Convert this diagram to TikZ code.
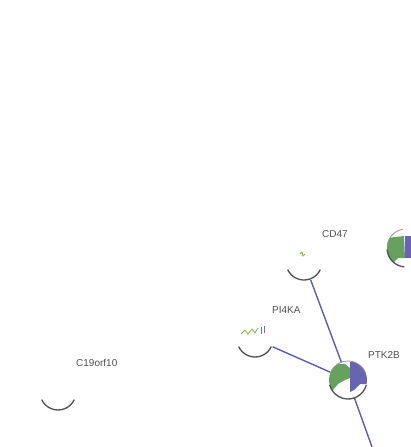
\documentclass[tikz,border=0pt]{standalone}
\usepackage{fontspec}
\setmainfont{Liberation Sans}
\definecolor{edgeblue}{RGB}{92,94,168}
\definecolor{ngreen}{RGB}{104,160,96}
\definecolor{nblue}{RGB}{104,100,176}
\definecolor{rimgray}{RGB}{80,80,84}
\definecolor{lbl}{RGB}{80,80,80}
\begin{document}
\begin{tikzpicture}[x=1pt,y=-1pt,
  edge/.style={draw=edgeblue,line width=1.4pt},
  rim/.style={draw=rimgray,line width=1.3pt},
  lab/.style={text=lbl,font=\fontsize{10}{11}\selectfont,anchor=west,inner sep=0pt},
  ball/.style={circle,minimum size=38pt,inner sep=0pt,fill=white}]
\fill[white] (0,0) rectangle (411,447);
\useasboundingbox (0,0) rectangle (411,447);
% nodes
\node[ball] (cd47) at (304,262) {};
\node[ball] (pi4ka) at (255,339) {};
\node[ball] (c19) at (58,392) {};
\node[ball] (ptk2b) at (348,380) {};
\node[ball] (rnode) at (406,248) {};
\coordinate (offb) at (372,447);
% edges
\draw[edge] (cd47) -- (ptk2b);
\draw[edge] (pi4ka) -- (ptk2b);
\draw[edge] (ptk2b) -- (offb);
% PTK2B sphere
\begin{scope}
\clip (348,380) circle (19);
\fill[white] (348,380) circle (19);
\fill[ngreen] (329,364) -- (345,364) -- (350,368) -- (350,378) -- (345,380) -- (338,384) -- (333,390) -- (329,390) -- cycle;
\fill[nblue] (350,362) -- (368,362) -- (368,384) -- (360,384) -- (354,390) -- (350,392) -- cycle;
\fill[white] (329,366) .. controls (338,359) and (356,358) .. (368,366) -- (368,355) -- (329,355) -- cycle;
\end{scope}
\draw[rim] (348,380) ++(15:19) arc (15:165:19);
\draw[draw=rimgray!60,line width=0.8pt] (348,380) ++(200:19) arc (200:340:19);
% right sphere
\begin{scope}
\clip (406,248) circle (19);
\fill[white] (406,248) circle (19);
\fill[ngreen] (387,238) -- (404,236) -- (405,258) -- (398,258) -- (394,262) -- (387,262) -- cycle;
\fill[nblue] (405,236) rectangle (411,258);
\fill[white] (387,240) .. controls (394,232) and (404,230) .. (411,232) -- (411,225) -- (387,225) -- cycle;
\end{scope}
\draw[rim] (406,248) ++(95:19) arc (95:175:19);
\draw[draw=rimgray!60,line width=0.8pt] (406,248) ++(190:19) arc (190:260:19);
% white spheres rims
\draw[rim] (304,262) ++(25:18) arc (25:155:18);
\draw[rim] (255,339) ++(25:18) arc (25:155:18);
\draw[rim] (58,392) ++(25:18) arc (25:155:18);
% tiny structures
\draw[ngreen!80!yellow,line width=0.8pt] (300,254) -- (302,252) -- (303,256) -- (305,254);
\draw[ngreen!80!yellow,line width=0.8pt] (241,334) -- (245,330) -- (248,334) -- (252,329) -- (255,333) -- (258,328);
\draw[nblue!70!ngreen,line width=0.8pt] (261,327) -- (261,334) (264,326) -- (264,333);
% labels
\node[lab] (lcd47) at (322,234) {CD47};
\node[lab] (lpi4ka) at (272,310) {PI4KA};
\node[lab] (lptk2b) at (368,355) {PTK2B};
\node[lab] (lc19) at (76,363) {C19orf10};
\end{tikzpicture}
\end{document}
